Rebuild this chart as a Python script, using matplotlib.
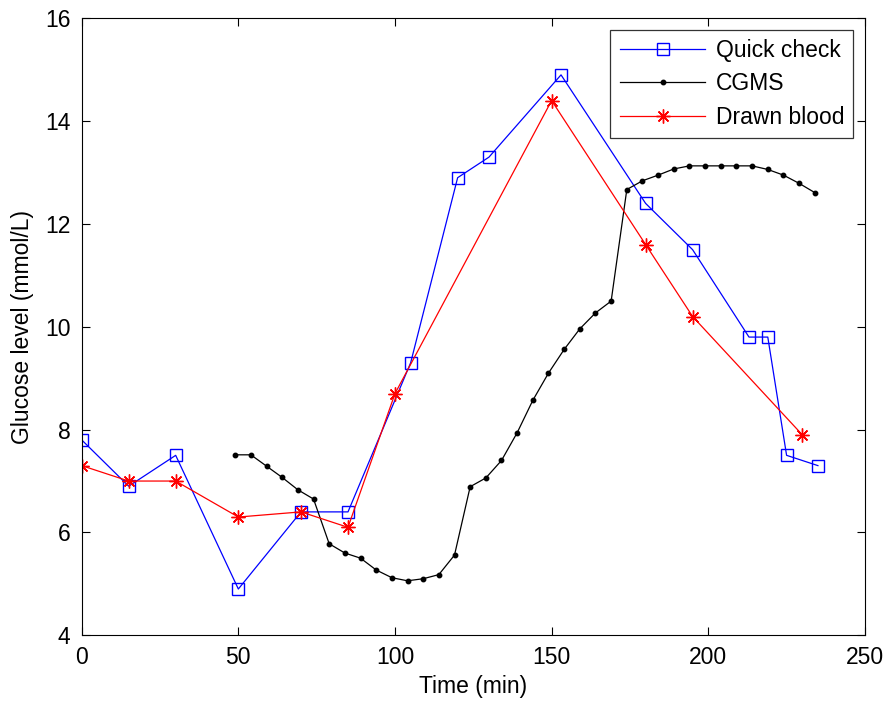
import numpy as np
import matplotlib
matplotlib.use("Agg")
import matplotlib.pyplot as plt

plt.rcParams['font.family'] = ['Liberation Sans', 'DejaVu Sans']

# Quick check (finger-prick meter)
qc_time = [0, 15, 30, 50, 70, 85, 105, 120, 130, 153, 180, 195, 213, 219, 225, 235]
qc_glucose = [7.8, 6.9, 7.5, 4.9, 6.4, 6.4, 9.3, 12.9, 13.3, 14.9, 12.4, 11.5, 9.8, 9.8, 7.5, 7.3]

# Continuous glucose monitoring system, 5-minute samples
cgms_time = list(range(49, 235, 5))
cgms_glucose = [7.51, 7.51, 7.29, 7.07, 6.83, 6.65, 5.78, 5.60, 5.50, 5.27,
                5.12, 5.06, 5.10, 5.18, 5.56, 6.89, 7.06, 7.40, 7.94, 8.57,
                9.10, 9.56, 9.96, 10.27, 10.50, 12.67, 12.84, 12.95, 13.07, 13.13,
                13.13, 13.13, 13.13, 13.13, 13.06, 12.95, 12.79, 12.61]

# Venous blood samples
blood_time = [0, 15, 30, 50, 70, 85, 100, 150, 180, 195, 230]
blood_glucose = [7.3, 7.0, 7.0, 6.3, 6.4, 6.1, 8.7, 14.4, 11.6, 10.2, 7.9]

x_ticks = [0, 50, 100, 150, 200, 250]
y_ticks = [4, 6, 8, 10, 12, 14, 16]

fig = plt.figure(figsize=(8.88, 7.04), dpi=100)
ax = fig.add_axes([0.092, 0.0976, 0.882, 0.8764])

ax.plot(qc_time, qc_glucose, color='#0000ff', lw=0.9, marker='s', ms=8.5,
        mfc='none', mec='#0000ff', mew=1.0, label='Quick check')
ax.plot(cgms_time, cgms_glucose, color='black', lw=0.9, marker='o', ms=3.2,
        mfc='black', mec='black', label='CGMS')
ax.plot(blood_time, blood_glucose, color='#ff0000', lw=0.9, marker=(8, 2, 0), ms=10,
        mec='#ff0000', mew=1.0, label='Drawn blood')

ax.set_xlim(0, 250)
ax.set_ylim(4, 16)
ax.set_xticks(x_ticks)
ax.set_yticks(y_ticks)
ax.tick_params(direction='in', length=5.6, width=0.8, top=True, right=True,
               labelsize=16.5, pad=8)
for s in ax.spines.values():
    s.set_linewidth(0.8)

ax.set_xlabel('Time (min)', fontsize=16.5, labelpad=4)
ax.set_ylabel('Glucose level (mmol/L)', fontsize=16.5, labelpad=8)

leg = ax.legend(loc='upper right', fontsize=16.5, fancybox=False, framealpha=1,
                edgecolor='#333333', handlelength=3.75, labelspacing=0.45,
                borderaxespad=0.5, handletextpad=0.45, borderpad=0.4)
leg.get_frame().set_linewidth(0.9)

fig.savefig('out.png', dpi=100)
